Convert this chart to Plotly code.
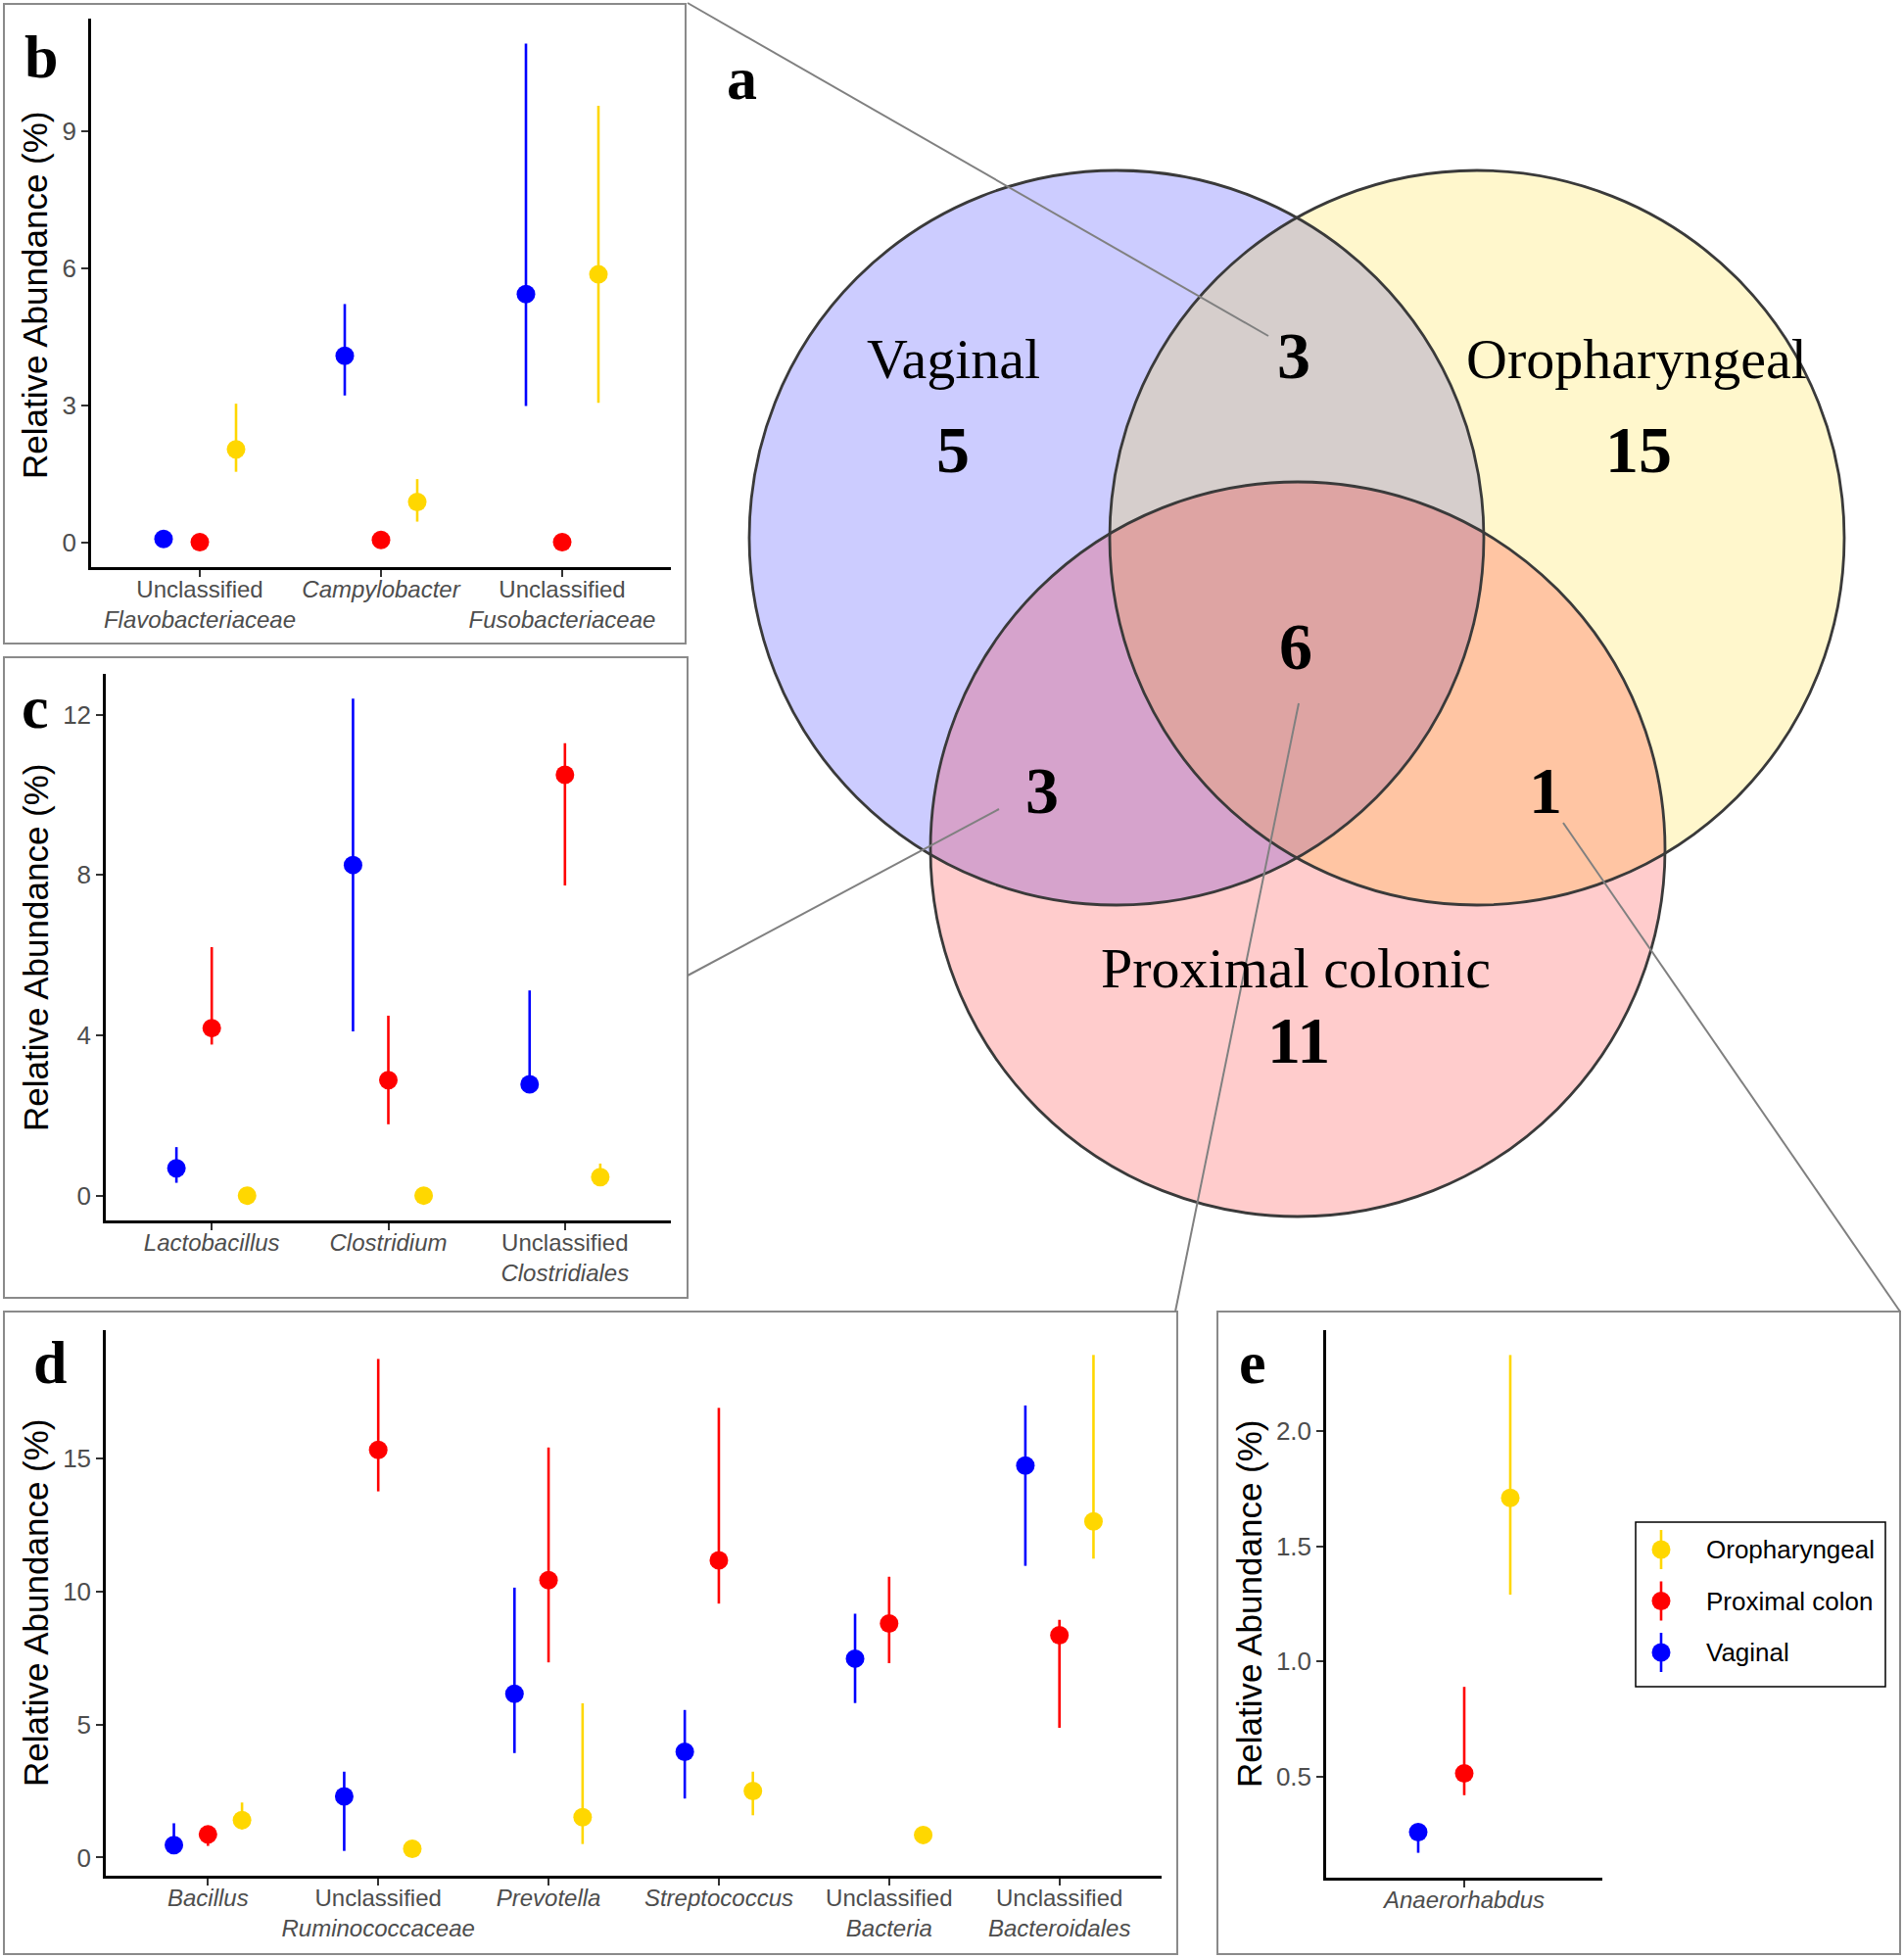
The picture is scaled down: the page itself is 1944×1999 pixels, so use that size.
import plotly.graph_objects as go

W, H = 1944, 1999

# ---------------- data ----------------
sources = ["Vaginal", "Proximal colon", "Oropharyngeal"]
source_colors = ["#0000FF", "#FF0000", "#FFD700"]
dodge = [-0.2, 0.0, 0.2]
legend_order = ["Oropharyngeal", "Proximal colon", "Vaginal"]

# panel b
b_taxa = ["Unclassified<br><i>Flavobacteriaceae</i>", "<i>Campylobacter</i>",
          "Unclassified<br><i>Fusobacteriaceae</i>"]
b_vag = [0.07, 4.08, 5.43]
b_vag_lo = [0.07, 3.21, 2.98]
b_vag_hi = [0.07, 5.21, 10.91]
b_prox = [0.0, 0.05, 0.0]
b_prox_lo = [0.0, 0.05, 0.0]
b_prox_hi = [0.0, 0.05, 0.0]
b_oro = [2.03, 0.88, 5.86]
b_oro_lo = [1.54, 0.45, 3.05]
b_oro_hi = [3.03, 1.38, 9.55]

# panel c
c_taxa = ["<i>Lactobacillus</i>", "<i>Clostridium</i>", "Unclassified<br><i>Clostridiales</i>"]
c_vag = [0.68, 8.25, 2.78]
c_vag_lo = [0.32, 4.10, 2.70]
c_vag_hi = [1.21, 12.40, 5.12]
c_prox = [4.18, 2.88, 10.50]
c_prox_lo = [3.77, 1.78, 7.74]
c_prox_hi = [6.20, 4.49, 11.29]
c_oro = [0.0, 0.0, 0.46]
c_oro_lo = [0.0, 0.0, 0.40]
c_oro_hi = [0.0, 0.0, 0.80]

# panel d
d_taxa = ["<i>Bacillus</i>", "Unclassified<br><i>Ruminococcaceae</i>", "<i>Prevotella</i>",
          "<i>Streptococcus</i>", "Unclassified<br><i>Bacteria</i>", "Unclassified<br><i>Bacteroidales</i>"]
d_vag = [0.47, 2.30, 6.16, 3.98, 7.48, 14.74]
d_vag_lo = [0.25, 0.25, 3.93, 2.22, 5.81, 10.97]
d_vag_hi = [1.29, 3.23, 10.15, 5.55, 9.17, 17.00]
d_prox = [0.87, 15.33, 10.43, 11.18, 8.80, 8.36]
d_prox_lo = [0.44, 13.77, 7.34, 9.55, 7.31, 4.88]
d_prox_hi = [0.95, 18.75, 15.42, 16.91, 10.56, 8.94]
d_oro = [1.41, 0.33, 1.52, 2.50, 0.85, 12.64]
d_oro_lo = [1.06, 0.25, 0.51, 1.59, 0.55, 11.24]
d_oro_hi = [2.07, 0.40, 5.80, 3.23, 0.95, 18.90]

# panel e
e_taxa = ["<i>Anaerorhabdus</i>"]
e_vag = [0.26]
e_vag_lo = [0.17]
e_vag_hi = [0.29]
e_prox = [0.515]
e_prox_lo = [0.42]
e_prox_hi = [0.89]
e_oro = [1.71]
e_oro_lo = [1.29]
e_oro_hi = [2.33]

# Venn diagram
venn_sets = ["Vaginal", "Oropharyngeal", "Proximal colonic"]
venn_only = [5, 15, 11]
venn_vag_oro = 3
venn_vag_prox = 3
venn_oro_prox = 1
venn_all = 6

# ---------------- layout helpers ----------------
def px(x):
    return x / W

def py(y):
    return 1 - y / H

panels = [
    dict(ax="", taxa=b_taxa, dtick=3, fmt="",
         series=[(b_vag, b_vag_lo, b_vag_hi), (b_prox, b_prox_lo, b_prox_hi), (b_oro, b_oro_lo, b_oro_hi)],
         box=(93, 685, 19, 579)),
    dict(ax="2", taxa=c_taxa, dtick=4, fmt="",
         series=[(c_vag, c_vag_lo, c_vag_hi), (c_prox, c_prox_lo, c_prox_hi), (c_oro, c_oro_lo, c_oro_hi)],
         box=(108, 685, 688, 1246)),
    dict(ax="3", taxa=d_taxa, dtick=5, fmt="",
         series=[(d_vag, d_vag_lo, d_vag_hi), (d_prox, d_prox_lo, d_prox_hi), (d_oro, d_oro_lo, d_oro_hi)],
         box=(108, 1186, 1358, 1915)),
    dict(ax="4", taxa=e_taxa, dtick=0.5, fmt=".1f",
         series=[(e_vag, e_vag_lo, e_vag_hi), (e_prox, e_prox_lo, e_prox_hi), (e_oro, e_oro_lo, e_oro_hi)],
         box=(1354, 1636, 1358, 1917)),
]

fig = go.Figure()
layout_axes = {}
ann = []
sans = "Liberation Sans, Arial"
serif = "Liberation Serif, Times New Roman"
xtickfont = dict(family=sans, size=24, color="#4D4D4D")
ytickfont = dict(family=sans, size=26, color="#4D4D4D")
MS = 19
EW = 2.6


def add_text(text, x, y, size, family, angle=0, xanchor="center", xref="paper", yref="paper",
             color="black"):
    ann.append(dict(text=text, x=x, y=y, xref=xref, yref=yref,
                    showarrow=False, xanchor=xanchor, yanchor="middle", textangle=angle,
                    font=dict(family=family, size=size, color=color)))


for p in panels:
    allv = []
    for s_i, (mean, lo, hi) in enumerate(p["series"]):
        allv += list(mean) + list(lo) + list(hi)
        xs = [i + dodge[s_i] for i in range(len(mean))]
        fig.add_trace(go.Scatter(
            x=xs, y=mean, mode="markers",
            xaxis="x" + p["ax"], yaxis="y" + p["ax"],
            marker=dict(color=source_colors[s_i], size=MS),
            error_y=dict(type="data", symmetric=False,
                         array=[h - m for h, m in zip(hi, mean)],
                         arrayminus=[m - l for m, l in zip(mean, lo)],
                         color=source_colors[s_i], thickness=EW, width=0),
            name=sources[s_i], legendgroup=sources[s_i], showlegend=False,
        ))
    lo_v, hi_v = min(allv), max(allv)
    span = hi_v - lo_v
    n = len(p["taxa"])
    x0, x1, y0, y1 = p["box"]
    layout_axes["xaxis" + p["ax"]] = dict(
        domain=[px(x0), px(x1)], anchor="y" + p["ax"],
        range=[-0.6, n - 1 + 0.6], tickmode="array",
        tickvals=list(range(n)), ticktext=p["taxa"],
        showline=True, linecolor="black", linewidth=2.5,
        ticks="outside", ticklen=7, tickwidth=2, tickcolor="#333333", ticklabelstandoff=-8,
        showgrid=False, zeroline=False, tickfont=xtickfont, fixedrange=True)
    yax = dict(
        domain=[py(y1), py(y0)], anchor="x" + p["ax"],
        range=[lo_v - 0.05 * span, hi_v + 0.05 * span], dtick=p["dtick"], tick0=0,
        showline=True, linecolor="black", linewidth=2.5,
        ticks="outside", ticklen=7, tickwidth=2, tickcolor="#333333",
        showgrid=False, zeroline=False, tickfont=ytickfont, fixedrange=True)
    if p["fmt"]:
        yax["tickformat"] = p["fmt"]
    layout_axes["yaxis" + p["ax"]] = yax

# ---------------- legend (own small axes so keys show error bars) ----------------
LEG = (1670, 1925, 1554, 1722)   # pixel box
row_px = 52.5
first_row_off = 28
leg_h = LEG[3] - LEG[2]
leg_rows = list(range(len(legend_order)))
for r, name in zip(leg_rows, legend_order):
    ci = sources.index(name)
    fig.add_trace(go.Scatter(
        x=[26], y=[r], mode="markers", xaxis="x5", yaxis="y5",
        marker=dict(color=source_colors[ci], size=MS),
        error_y=dict(type="constant", value=20 / row_px, color=source_colors[ci], thickness=EW, width=0),
        name=name, legendgroup=name, showlegend=False, hoverinfo="name",
    ))
layout_axes["xaxis5"] = dict(domain=[px(LEG[0]), px(LEG[1])], anchor="y5",
                             range=[0, LEG[1] - LEG[0]], visible=False, fixedrange=True)
layout_axes["yaxis5"] = dict(domain=[py(LEG[3]), py(LEG[2])], anchor="x5",
                             range=[(leg_h - first_row_off) / row_px, -first_row_off / row_px],
                             visible=False, fixedrange=True)
for r, name in zip(leg_rows, legend_order):
    add_text(name, 70, r, 26, sans, xanchor="left", xref="x5", yref="y5")

# ---------------- shapes ----------------
shapes = []
box_col = "#8A8A8A"
panel_boxes = [(4, 700, 4, 657), (4, 702, 671, 1325), (4, 1202, 1339, 1995), (1243, 1940, 1339, 1995)]
for (bx0, bx1, by0, by1) in panel_boxes:
    shapes.append(dict(type="rect", xref="paper", yref="paper",
                       x0=px(bx0), x1=px(bx1), y0=py(by1), y1=py(by0),
                       line=dict(color=box_col, width=2), fillcolor="rgba(0,0,0,0)"))
shapes.append(dict(type="rect", xref="paper", yref="paper",
                   x0=px(LEG[0]), x1=px(LEG[1]), y0=py(LEG[3]), y1=py(LEG[2]),
                   line=dict(color="black", width=1.5), fillcolor="rgba(0,0,0,0)"))

# Venn circles (layout in pixels)
R = 375
venn_centres = [(1140, 549), (1508, 549), (1325, 867)]
venn_fills = ["rgba(0,0,255,0.2)", "rgba(255,215,0,0.2)", "rgba(255,0,0,0.2)"]
for (cx, cy), fc in zip(venn_centres, venn_fills):
    shapes.append(dict(type="circle", xref="paper", yref="paper",
                       x0=px(cx - R), x1=px(cx + R), y0=py(cy + R), y1=py(cy - R),
                       fillcolor=fc, line=dict(width=0), layer="below"))
for (cx, cy) in venn_centres:
    shapes.append(dict(type="circle", xref="paper", yref="paper",
                       x0=px(cx - R), x1=px(cx + R), y0=py(cy + R), y1=py(cy - R),
                       fillcolor="rgba(0,0,0,0)", line=dict(color="#3A3A3A", width=2.8), layer="below"))

# connector lines
connectors = [((702, 3), (1295, 343)), ((702, 996), (1020, 826)),
              ((1200, 1339), (1326, 718)), ((1940, 1339), (1596, 840))]
for (ax0, ay0), (ax1, ay1) in connectors:
    shapes.append(dict(type="line", xref="paper", yref="paper",
                       x0=px(ax0), y0=py(ay0), x1=px(ax1), y1=py(ay1),
                       line=dict(color="#808080", width=2)))

# ---------------- annotations ----------------
venn_label_pos = [(974, 367), (1671, 367), (1323, 988)]
for name, (lx, ly) in zip(venn_sets, venn_label_pos):
    add_text(name, px(lx), py(ly), 58, serif)
region_counts = venn_only + [venn_vag_oro, venn_vag_prox, venn_oro_prox, venn_all]
region_pos = [(973, 459), (1673, 459), (1326, 1062), (1321, 363), (1064, 807), (1578, 807), (1323, 660)]
for cnt, (lx, ly) in zip(region_counts, region_pos):
    add_text("<b>%d</b>" % cnt, px(lx), py(ly), 68, serif)

letters = [("a", 757, 80), ("b", 42, 58), ("c", 36, 722), ("d", 51, 1391), ("e", 1279, 1391)]
for t, lx, ly in letters:
    add_text("<b>%s</b>" % t, px(lx), py(ly), 62, serif)

ytitle_pos = [(36, 301), (36, 967), (36, 1636), (1275, 1637)]
for lx, ly in ytitle_pos:
    add_text("Relative Abundance (%)", px(lx), py(ly), 35, sans, angle=-90)

fig.update_layout(
    width=W, height=H, margin=dict(l=0, r=0, t=0, b=0),
    paper_bgcolor="white", plot_bgcolor="rgba(0,0,0,0)",
    shapes=shapes, annotations=ann, showlegend=False,
    **layout_axes,
)

fig.write_html("out.html", config={"displayModeBar": False},
               post_script="document.body.style.margin='0';")
